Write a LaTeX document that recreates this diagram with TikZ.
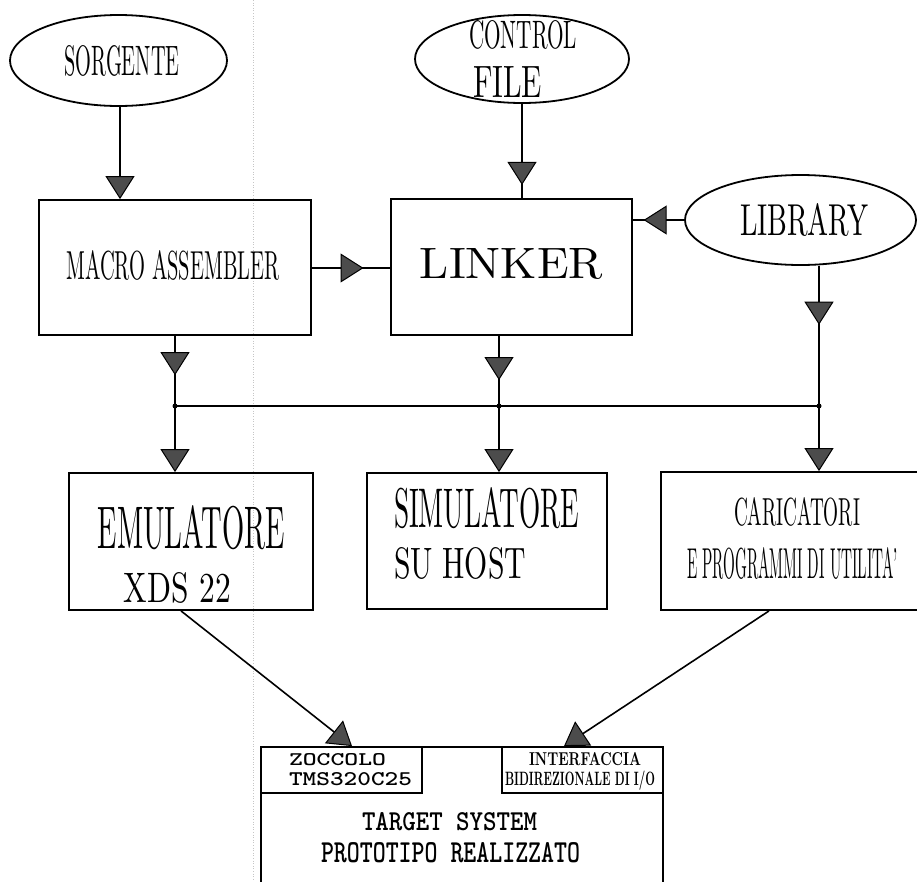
\documentclass[tikz,border=0pt]{standalone}
\usepackage{graphicx}
\usetikzlibrary{shapes.geometric,arrows.meta,decorations.markings,calc}
\newcommand{\fitt}[3]{\resizebox{#1pt}{#2pt}{#3}}
\tikzset{
  box/.style={draw, rectangle, line width=1.8pt, inner sep=0pt},
  oval/.style={draw, ellipse, line width=1.8pt, inner sep=0pt},
  txt/.style={inner sep=0pt, outer sep=0pt},
  tipA/.tip={Triangle[width=29pt,length=23pt,fill=black!70,line width=1pt]},
  conn/.style={line width=1.6pt},
  arr/.style={conn, -tipA},
  midarr/.style={conn, postaction={decorate},
    decoration={markings, mark=at position #1 with {\arrow{tipA}}}},
  dot/.style={circle, fill=black, inner sep=0pt, minimum size=5pt}
}
\begin{document}
\begin{tikzpicture}[x=1pt,y=-1pt]
\useasboundingbox (0,0) rectangle (917,881);
% faint scan fold line
\draw[gray!45, line width=0.6pt, dotted] (253,0) -- (253,881);

% ellipses
\node[oval, minimum width=217pt, minimum height=91pt] (sorg) at (118.5,60.5) {};
\node[oval, minimum width=214pt, minimum height=88pt] (ctrl) at (522,59) {};
\node[oval, minimum width=231pt, minimum height=90pt] (lib) at (800.5,220) {};

% boxes
\node[box, minimum width=272pt, minimum height=135pt] (macro) at (175,267.5) {};
\node[box, minimum width=241pt, minimum height=136pt] (linker) at (511.5,267) {};
\node[box, minimum width=244pt, minimum height=137pt] (emul) at (191,541.5) {};
\node[box, minimum width=240pt, minimum height=136pt] (simul) at (487,541) {};
\node[box, minimum width=269pt, minimum height=138pt] (caric) at (795.5,541) {};
\node[box, minimum width=402pt, minimum height=153pt] (target) at (462,823.5) {};
\node[box, minimum width=161pt, minimum height=46pt] (zocc) at (341.5,770) {};
\node[box, minimum width=161pt, minimum height=46pt] (inter) at (582.5,770) {};

% texts
\node[txt, anchor=base] (tsorg) at (122,75) {\fitt{115}{30}{SORGENTE}};
\node[txt, anchor=base] (tctrl1) at (523,48) {\fitt{108}{28}{CONTROL}};
\node[txt, anchor=base] (tctrl2) at (507.5,97) {\fitt{69}{31}{FILE}};
\node[txt, anchor=base] (tlib) at (804,235) {\fitt{128}{32}{LIBRARY}};
\node[txt, anchor=base] (tmacro) at (173,279) {\fitt{213}{29}{MACRO ASSEMBLER}};
\node[txt, anchor=base] (tlinker) at (511.5,278) {\fitt{183}{30}{LINKER}};
\node[txt, anchor=base] (temul1) at (191.5,548) {\fitt{187}{43}{EMULATORE}};
\node[txt, anchor=base] (temul2) at (177.5,602) {\fitt{107}{30}{XDS 22}};
\node[txt, anchor=base west] (tsim1) at (394,527) {\fitt{185}{40}{SIMULATORE}};
\node[txt, anchor=base west] (tsim2) at (394,578) {\fitt{132}{31}{SU HOST}};
\node[txt, anchor=base] (tcar1) at (797,525) {\fitt{126}{28}{CARICATORI}};
\node[txt, anchor=base] (tcar2) at (792.5,578) {\fitt{211}{31}{E PROGRAMMI DI UTILITA'}};
\node[txt, anchor=base west] (tzocc1) at (289,765) {\fitt{97}{12}{\ttfamily\bfseries ZOCCOLO}};
\node[txt, anchor=base west] (tzocc2) at (289,785) {\fitt{123}{13}{\ttfamily\bfseries TMS320C25}};
\node[txt, anchor=base] (tint1) at (585,765) {\fitt{112}{13}{\bfseries INTERFACCIA}};
\node[txt, anchor=base] (tint2) at (580,785) {\fitt{150}{14.5}{\bfseries BIDIREZIONALE DI I/O}};
\node[txt, anchor=base] (ttar1) at (449.5,830) {\fitt{175}{18}{\ttfamily\bfseries TARGET SYSTEM}};
\node[txt, anchor=base] (ttar2) at (450.5,862) {\fitt{259}{20}{\ttfamily\bfseries PROTOTIPO REALIZZATO}};

% helper coordinates
\coordinate (bus1) at (175,406);
\coordinate (bus2) at (499,406);
\coordinate (bus3) at (819,406);
\coordinate (x120) at (120,0);
\coordinate (y268) at (0,268);

% connectors
\draw[arr] (sorg.south -| x120) -- (macro.north -| x120);
\draw[midarr=0.86] (ctrl.south) -- (ctrl.south |- linker.north);
\draw[midarr=0.66] (macro.east |- y268) -- (linker.west |- y268);
\draw[midarr=0.79] (lib.west) -- (lib.west -| linker.east);
\draw[midarr=0.42] (bus3 |- lib.south) -- (bus3);
\draw[midarr=0.56] (macro.south) -- (bus1);
\draw[midarr=0.63] (bus2 |- linker.south) -- (bus2);
\draw[conn] (bus1) -- (bus3);
\draw[arr] (bus1) -- (bus1 |- emul.north);
\draw[arr] (bus2) -- (bus2 |- simul.north);
\draw[arr] (bus3) -- (bus3 |- caric.north);
\node[dot] (j1) at (bus1) {};
\node[dot] (j2) at (bus2) {};
\node[dot] (j3) at (bus3) {};
\draw[arr] ([xshift=-10pt]emul.south) -- ([xshift=10.5pt]zocc.north);
\draw[arr] ([xshift=-26.5pt]caric.south) -- ([xshift=-18.5pt]inter.north);
\end{tikzpicture}
\end{document}
